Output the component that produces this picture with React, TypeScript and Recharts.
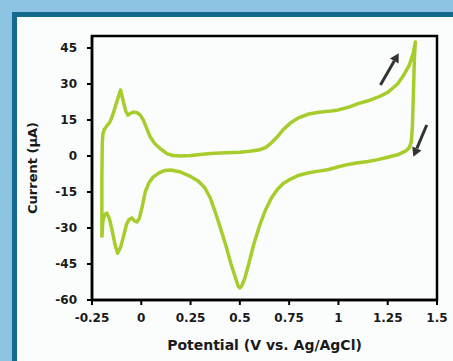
import React from 'react';
import {
  LineChart, Line, XAxis, YAxis, ReferenceArea, ReferenceLine,
} from 'recharts';

// Cyclic voltammogram: anodic sweep out to +1.39 V, then the cathodic return
const forwardV = [
  -0.2, -0.2, -0.198, -0.195, -0.188, -0.175, -0.16, -0.145, -0.13, -0.115, -0.105,
  -0.095, -0.08, -0.068, -0.055, -0.04, -0.02, -0.005, 0.01, 0.025, 0.045, 0.07,
  0.1, 0.13, 0.16, 0.2, 0.25, 0.3, 0.35, 0.4, 0.5, 0.55, 0.6, 0.63, 0.66, 0.69,
  0.72, 0.76, 0.8, 0.85, 0.9, 0.95, 1.0, 1.05, 1.1, 1.15, 1.2, 1.25, 1.3, 1.33,
  1.36, 1.38, 1.39,
];
const forwardI = [
  -34, -10, 5, 9, 11, 12.5, 14, 17, 21, 25, 27.5,
  24, 19, 17, 17.8, 18.3, 18, 17, 15, 12, 8, 5,
  2.8, 1, 0.2, 0, 0.2, 0.6, 1, 1.2, 1.6, 2, 2.6, 3.5, 5.5, 8,
  11, 14, 16, 17.5, 18.2, 18.6, 19.2, 20.3, 21.8, 23, 24.5, 26.5, 30, 33.5,
  38, 43, 47.5,
];
const reverseV = [
  1.385, 1.38, 1.375, 1.37, 1.36, 1.34, 1.3, 1.25, 1.2, 1.15, 1.1, 1.05, 1.0,
  0.95, 0.9, 0.85, 0.8, 0.76, 0.72, 0.69, 0.66, 0.63, 0.6, 0.57, 0.545, 0.525,
  0.51, 0.5, 0.49, 0.475, 0.455, 0.43, 0.405, 0.38, 0.35, 0.32, 0.29, 0.25, 0.2,
  0.15, 0.12, 0.09, 0.06, 0.04, 0.02, 0.005, -0.01, -0.022, -0.035, -0.048,
  -0.062, -0.075, -0.09, -0.105, -0.12, -0.133, -0.148, -0.162, -0.175, -0.187,
  -0.195, -0.2,
];
const reverseI = [
  40, 25, 12, 6, 3.5, 2, 0.5, -0.5, -1.5, -2.3, -2.8, -3.5, -4.5,
  -5.6, -6.3, -7, -8, -9.5, -11.5, -14, -17.5, -22.5, -29, -37, -45, -51,
  -54, -55, -54, -50, -45, -37.5, -31, -24.5, -17.5, -13, -10.5, -8.5, -6.7,
  -5.8, -6, -7, -8.8, -11, -15, -21, -26, -27.5, -27, -25.8,
  -26.5, -28.5, -33.5, -38, -40.5, -37, -31, -26, -23.8, -24.5,
  -27.5, -34,
];

const xTicks = [-0.25, 0, 0.25, 0.5, 0.75, 1, 1.25, 1.5];
const yTicks = [-60, -45, -30, -15, 0, 15, 30, 45];

// sweep-direction arrows, tail -> head
const arrowTails = [{ x: 1.213, y: 29.6 }, { x: 1.448, y: 12.9 }];
const arrowHeads = [{ x: 1.306, y: 42.8 }, { x: 1.38, y: -0.3 }];

const cv = [
  ...forwardV.map((v, k) => ({ v, i: forwardI[k] })),
  ...reverseV.map((v, k) => ({ v, i: reverseI[k] })),
];

const FONT = '"DejaVu Sans", sans-serif';
const tickStyle = { fontFamily: FONT, fontSize: 12, fontWeight: 700, fill: '#1a1a1a' };

function Arrow(props: any) {
  const { x1, y1, x2, y2 } = props;
  const ang = Math.atan2(y2 - y1, x2 - x1);
  const len = 9;
  const wid = 5;
  const bx = x2 - len * Math.cos(ang);
  const by = y2 - len * Math.sin(ang);
  const px = -Math.sin(ang) * wid;
  const py = Math.cos(ang) * wid;
  return (
    <g>
      <line x1={x1} y1={y1} x2={bx} y2={by} stroke="#333" strokeWidth={3} />
      <polygon
        points={`${x2},${y2} ${bx + px},${by + py} ${bx - px},${by - py}`}
        fill="#333"
      />
    </g>
  );
}

export default function App() {
  return (
    <div style={{ position: 'absolute', left: 0, top: 0, width: 453, height: 361, background: '#8ec4e3', overflow: 'hidden' }}>
      <div
        style={{
          position: 'absolute', left: 12, top: 12, right: 0, bottom: 0,
          borderLeft: '5px solid #15698c', borderTop: '5px solid #15698c', background: '#fbfdfd',
        }}
      />
      <div style={{ position: 'absolute', left: 0, top: 0 }}>
        <LineChart width={453} height={361} data={cv} margin={{ top: 36, right: 16, bottom: 0, left: 0 }}>
          <ReferenceArea x1={-0.25} x2={1.5} y1={-60} y2={50} fill="none" stroke="#000" strokeWidth={2.5} ifOverflow="visible" />
          <XAxis
            type="number" dataKey="v" domain={[-0.25, 1.5]} ticks={xTicks} height={61}
            tickFormatter={(t: number) => String(t)}
            axisLine={{ stroke: '#000', strokeWidth: 2.5 }} tickLine={{ stroke: '#000', strokeWidth: 2 }}
            tickSize={5} tickMargin={8} tick={tickStyle} interval={0}
            label={{ value: 'Potential (V vs. Ag/AgCl)', position: 'insideBottom', offset: 11, style: { fontFamily: FONT, fontSize: 14, fontWeight: 700, fill: '#1a1a1a' } }}
          />
          <YAxis
            type="number" domain={[-60, 50]} ticks={yTicks} width={92}
            axisLine={{ stroke: '#000', strokeWidth: 2.5 }} tickLine={{ stroke: '#000', strokeWidth: 2 }}
            tickSize={5} tickMargin={10} tick={tickStyle} interval={0}
            label={{ value: 'Current (μA)', angle: -90, position: 'insideLeft', offset: 32, style: { fontFamily: FONT, fontSize: 13, fontWeight: 700, fill: '#1a1a1a', textAnchor: 'middle' } }}
          />
          <Line
            type="linear" dataKey="i" stroke="#a6cd2c" strokeWidth={3.5}
            dot={false} isAnimationActive={false} strokeLinejoin="round"
          />
          {arrowTails.map((t, k) => (
            <ReferenceLine
              key={k}
              segment={[t, arrowHeads[k]]}
              ifOverflow="visible"
              shape={Arrow}
            />
          ))}
        </LineChart>
      </div>
    </div>
  );
}
